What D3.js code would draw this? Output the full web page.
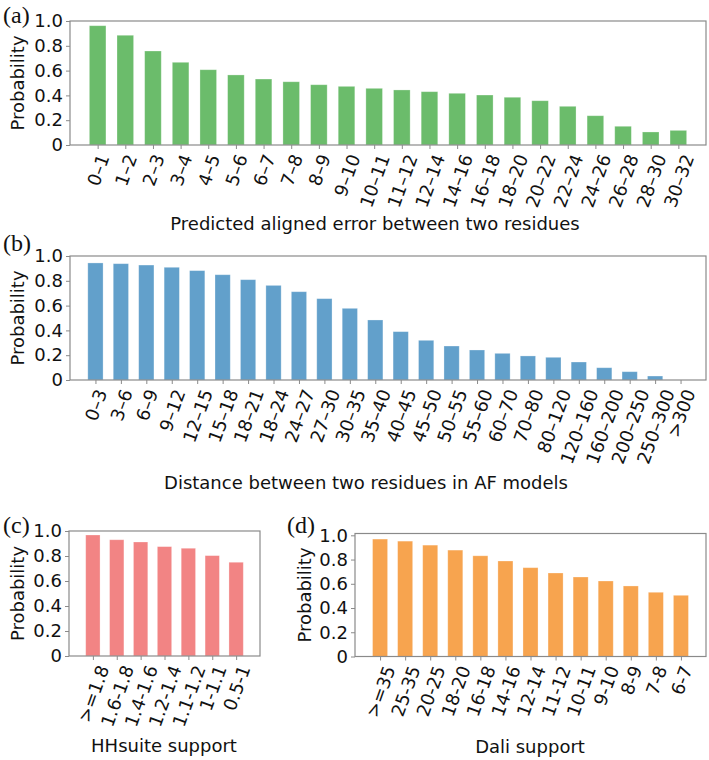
<!DOCTYPE html>
<html>
<head>
<meta charset="utf-8">
<script src="https://cdn.jsdelivr.net/npm/d3@7"></script>
<style>
  body { margin: 0; background: #fff; }
  text { font-family: "DejaVu Sans", sans-serif; fill: #111; }
</style>
</head>
<body>
<div id="chart"></div>
<script>
// (a) predicted aligned error
const paeBins = ["0–1", "1–2", "2–3", "3–4", "4–5", "5–6", "6–7", "7–8", "8–9", "9–10",
  "10–11", "11–12", "12–14", "14–16", "16–18", "18–20", "20–22", "22–24", "24–26",
  "26–28", "28–30", "30–32"];
const paeProb = [0.962, 0.885, 0.758, 0.667, 0.607, 0.565, 0.532, 0.51, 0.486, 0.473,
  0.457, 0.444, 0.43, 0.417, 0.403, 0.385, 0.357, 0.312, 0.236, 0.151, 0.105, 0.118];

// (b) distance in AF models
const distBins = ["0–3", "3–6", "6–9", "9–12", "12–15", "15–18", "18–21", "18–24", "24–27",
  "27–30", "30–35", "35–40", "40–45", "45–50", "50–55", "55–60", "60–70", "70–80",
  "80–120", "120–160", "160–200", "200–250", "250–300", ">300"];
const distProb = [0.944, 0.938, 0.927, 0.909, 0.882, 0.849, 0.809, 0.763, 0.712, 0.656,
  0.578, 0.484, 0.39, 0.32, 0.274, 0.242, 0.215, 0.194, 0.183, 0.145, 0.099, 0.067,
  0.032, 0.0];

// (c) HHsuite support
const hhBins = [">=1.8", "1.6-1.8", "1.4-1.6", "1.2-1.4", "1.1-1.2", "1-1.1", "0.5-1"];
const hhProb = [0.968, 0.93, 0.912, 0.875, 0.862, 0.803, 0.75];

// (d) Dali support
const daliBins = [">=35", "25-35", "20-25", "18-20", "16-18", "14-16", "12-14", "11-12",
  "10-11", "9-10", "8-9", "7-8", "6-7"];
const daliProb = [0.969, 0.952, 0.919, 0.878, 0.831, 0.788, 0.733, 0.689, 0.656, 0.623,
  0.582, 0.53, 0.505];

const yTicks = [0, 0.2, 0.4, 0.6, 0.8, 1.0];

const svg = d3.select("#chart")
  .append("svg")
  .attr("width", 709)
  .attr("height", 760);

class BarPanel {
  constructor(_config, _categories, _values) {
    this.config = {
      left: _config.left,
      right: _config.right,
      top: _config.top,
      bottom: _config.bottom,
      yMax: _config.yMax || 1.0,
      color: _config.color,
      letter: _config.letter,
      letterX: _config.letterX,
      letterY: _config.letterY,
      xLabel: _config.xLabel,
      xLabelX: _config.xLabelX,
      xLabelY: _config.xLabelY,
      yLabelX: _config.yLabelX,
      fontSize: 18,
      angle: 70,
    };
    this.categories = _categories;
    this.values = _values;
    this.initVis();
  }

  initVis() {
    let vis = this;
    const c = vis.config;

    vis.xScale = d3.scalePoint()
      .domain(vis.categories)
      .range([c.left, c.right])
      .padding(1);

    vis.yScale = d3.scaleLinear()
      .domain([0, c.yMax])
      .range([c.bottom, c.top]);

    vis.g = svg.append("g");
    vis.renderVis();
  }

  renderVis() {
    let vis = this;
    const c = vis.config;
    const bw = vis.xScale.step() * 0.6;

    // bars
    vis.g.append("g")
      .selectAll("rect")
      .data(vis.categories.map((d, i) => ({ cat: d, value: vis.values[i] })))
      .join("rect")
      .attr("x", (d) => vis.xScale(d.cat) - bw / 2)
      .attr("y", (d) => vis.yScale(d.value))
      .attr("width", bw)
      .attr("height", (d) => vis.yScale(0) - vis.yScale(d.value))
      .attr("fill", c.color)
      .attr("stroke", "#ffffff")
      .attr("stroke-opacity", 0.35)
      .attr("stroke-width", 0.8);

    // y axis
    const yAxis = d3.axisLeft(vis.yScale)
      .tickValues(yTicks)
      .tickSize(4)
      .tickPadding(3)
      .tickFormat((d) => (d === 0 ? "0" : d3.format(".1f")(d)));
    const yg = vis.g.append("g")
      .attr("transform", `translate(${c.left},0)`)
      .call(yAxis);
    yg.select(".domain").remove();
    yg.selectAll("line").attr("stroke", "#8a8a8a");
    yg.selectAll("text")
      .attr("font-size", c.fontSize)
      .attr("font-family", "DejaVu Sans")
      .attr("fill", "#111");

    // x axis, labels rotated and centred on the tick
    const xAxis = d3.axisBottom(vis.xScale).tickSize(4);
    const xg = vis.g.append("g")
      .attr("transform", `translate(0,${c.bottom})`)
      .call(xAxis);
    xg.select(".domain").remove();
    xg.selectAll("line").attr("stroke", "#8a8a8a");
    const rad = (c.angle * Math.PI) / 180;
    xg.selectAll("text")
      .attr("font-size", c.fontSize)
      .attr("font-family", "DejaVu Sans")
      .attr("fill", "#111")
      .attr("y", null)
      .attr("dy", null)
      .attr("text-anchor", "middle")
      .attr("dominant-baseline", "central")
      .attr("transform", function () {
        const len = this.getComputedTextLength();
        const h = c.fontSize * 0.95;
        const ext = len * Math.sin(rad) + h * Math.cos(rad);
        return `translate(0,${7 + ext / 2}) rotate(${-c.angle})`;
      });

    // frame
    vis.g.append("rect")
      .attr("x", c.left)
      .attr("y", c.top)
      .attr("width", c.right - c.left)
      .attr("height", c.bottom - c.top)
      .attr("fill", "none")
      .attr("stroke", "#8a8a8a")
      .attr("stroke-width", 1.2);

    // axis titles
    vis.g.append("text")
      .attr("x", c.xLabelX)
      .attr("y", c.xLabelY)
      .attr("text-anchor", "middle")
      .attr("dominant-baseline", "central")
      .attr("font-size", c.fontSize)
      .text(c.xLabel);

    vis.g.append("text")
      .attr("transform", `translate(${c.yLabelX},${(c.top + c.bottom) / 2}) rotate(-90)`)
      .attr("text-anchor", "middle")
      .attr("dominant-baseline", "central")
      .attr("font-size", c.fontSize)
      .text("Probability");

    // panel letter
    vis.g.append("text")
      .attr("x", c.letterX)
      .attr("y", c.letterY)
      .attr("dominant-baseline", "central")
      .style("font-family", "'Liberation Serif', serif")
      .attr("font-size", 24)
      .text(c.letter);
  }
}

new BarPanel({
  left: 70, right: 706, top: 21, bottom: 145,
  color: "#6bbc6b",
  letter: "(a)", letterX: 3, letterY: 15,
  xLabel: "Predicted aligned error between two residues", xLabelX: 375, xLabelY: 223,
  yLabelX: 17,
}, paeBins, paeProb);

new BarPanel({
  left: 70, right: 706, top: 256, bottom: 380,
  color: "#62a0cb",
  letter: "(b)", letterX: 3, letterY: 243,
  xLabel: "Distance between two residues in AF models", xLabelX: 366, xLabelY: 482,
  yLabelX: 17,
}, distBins, distProb);

new BarPanel({
  left: 69, right: 260, top: 531, bottom: 656,
  color: "#f28484",
  letter: "(c)", letterX: 3, letterY: 525,
  xLabel: "HHsuite support", xLabelX: 164, xLabelY: 745,
  yLabelX: 17,
}, hhBins, hhProb);

new BarPanel({
  left: 355, right: 706, top: 533.5, bottom: 656.5, yMax: 1.015,
  color: "#f7a44f",
  letter: "(d)", letterX: 287, letterY: 525,
  xLabel: "Dali support", xLabelX: 530, xLabelY: 746,
  yLabelX: 304,
}, daliBins, daliProb);
</script>
</body>
</html>
